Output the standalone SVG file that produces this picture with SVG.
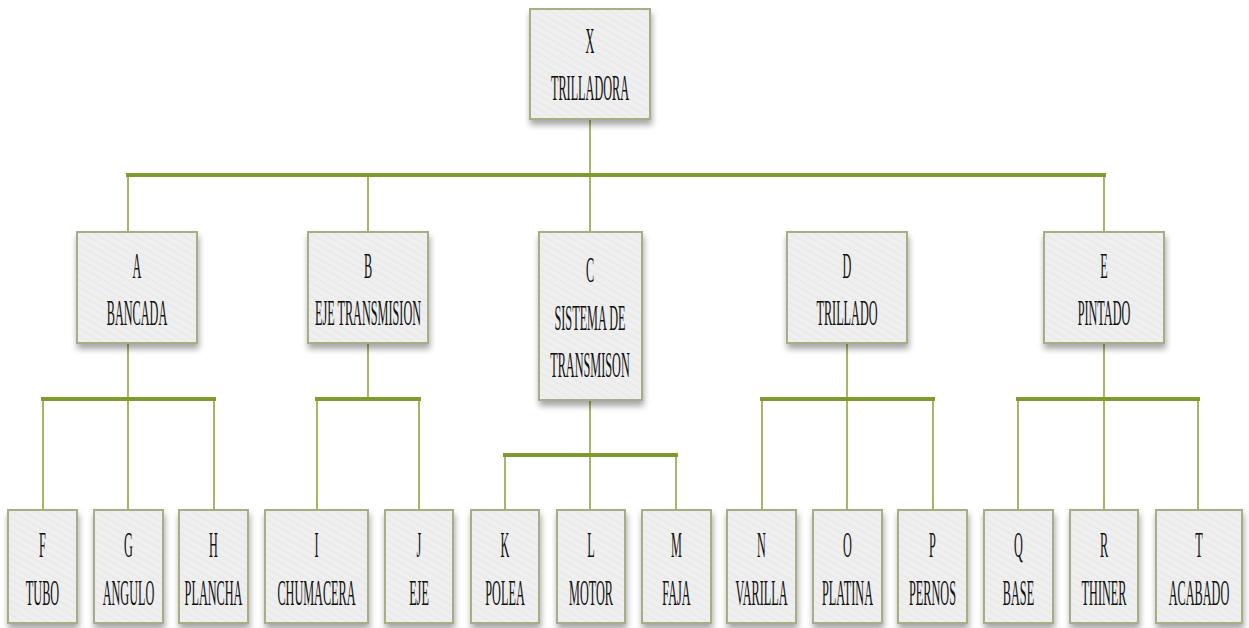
<svg xmlns="http://www.w3.org/2000/svg" width="1249" height="628" viewBox="0 0 1249 628">
  <defs>
    <pattern id="stripes" patternUnits="userSpaceOnUse" width="6" height="6" patternTransform="rotate(-60)">
      <rect width="6" height="6" fill="#efefef"/>
      <rect width="2" height="6" fill="#eaeaea"/>
    </pattern>
    <filter id="shadow" x="-20%" y="-20%" width="140%" height="150%">
      <feDropShadow dx="1" dy="5" stdDeviation="3" flood-color="#000" flood-opacity="0.35"/>
    </filter>
  </defs>
  <style>
    .box { fill: url(#stripes); stroke: #a8ad85; stroke-width: 2; filter: url(#shadow); }
    .t { font-family: "Liberation Serif", "Times New Roman", serif; font-size: 36px; text-anchor: middle; fill: #111; }
    .bus { stroke: #7f9b2c; stroke-width: 4; fill: none; }
    .drop { stroke: #8ea63c; stroke-width: 1.6; fill: none; }
  </style>
  <rect width="1249" height="628" fill="#ffffff"/>

  <!-- connectors -->
  <g id="connectors">
    <!-- root to level 1 -->
    <line class="drop" x1="590" y1="119" x2="590" y2="175"/>
    <line class="drop" x1="128" y1="175" x2="128" y2="232"/>
    <line class="drop" x1="368" y1="175" x2="368" y2="232"/>
    <line class="drop" x1="590" y1="175" x2="590" y2="232"/>
    <line class="drop" x1="1104" y1="175" x2="1104" y2="232"/>
    <line class="bus" x1="126" y1="175" x2="1106" y2="175"/>

    <!-- A branch -->
    <line class="drop" x1="128" y1="343" x2="128" y2="510"/>
    <line class="drop" x1="43" y1="399" x2="43" y2="510"/>
    <line class="drop" x1="214" y1="399" x2="214" y2="510"/>
    <line class="bus" x1="41" y1="399" x2="216" y2="399"/>

    <!-- B branch -->
    <line class="drop" x1="368" y1="343" x2="368" y2="399"/>
    <line class="drop" x1="317" y1="399" x2="317" y2="510"/>
    <line class="drop" x1="419" y1="399" x2="419" y2="510"/>
    <line class="bus" x1="315" y1="399" x2="421" y2="399"/>

    <!-- C branch -->
    <line class="drop" x1="590" y1="400" x2="590" y2="510"/>
    <line class="drop" x1="505" y1="455" x2="505" y2="510"/>
    <line class="drop" x1="676" y1="455" x2="676" y2="510"/>
    <line class="bus" x1="503" y1="455" x2="678" y2="455"/>

    <!-- D branch -->
    <line class="drop" x1="847" y1="343" x2="847" y2="510"/>
    <line class="drop" x1="762" y1="399" x2="762" y2="510"/>
    <line class="drop" x1="933" y1="399" x2="933" y2="510"/>
    <line class="bus" x1="760" y1="399" x2="935" y2="399"/>

    <!-- E branch -->
    <line class="drop" x1="1104" y1="343" x2="1104" y2="510"/>
    <line class="drop" x1="1018" y1="399" x2="1018" y2="510"/>
    <line class="drop" x1="1198" y1="399" x2="1198" y2="510"/>
    <line class="bus" x1="1016" y1="399" x2="1200" y2="399"/>
  </g>

  <!-- root -->
  <g id="node-X">
    <rect class="box" x="530" y="9" width="120" height="110"/>
    <text class="t" transform="translate(590 53) scale(0.34 1)">X</text>
    <text class="t" transform="translate(590 100) scale(0.34 1)">TRILLADORA</text>
  </g>

  <!-- level 1 -->
  <g id="node-A">
    <rect class="box" x="77" y="232" width="120" height="111"/>
    <text class="t" transform="translate(137 278) scale(0.34 1)">A</text>
    <text class="t" transform="translate(137 325) scale(0.34 1)">BANCADA</text>
  </g>
  <g id="node-B">
    <rect class="box" x="308" y="232" width="120" height="111"/>
    <text class="t" transform="translate(368 278) scale(0.34 1)">B</text>
    <text class="t" transform="translate(368 325) scale(0.34 1)">EJE TRANSMISION</text>
  </g>
  <g id="node-C">
    <rect class="box" x="539" y="232" width="103" height="168"/>
    <text class="t" transform="translate(590 282) scale(0.34 1)">C</text>
    <text class="t" transform="translate(590 330) scale(0.34 1)">SISTEMA DE</text>
    <text class="t" transform="translate(590 377) scale(0.34 1)">TRANSMISON</text>
  </g>
  <g id="node-D">
    <rect class="box" x="787" y="232" width="120" height="111"/>
    <text class="t" transform="translate(847 278) scale(0.34 1)">D</text>
    <text class="t" transform="translate(847 325) scale(0.34 1)">TRILLADO</text>
  </g>
  <g id="node-E">
    <rect class="box" x="1044" y="232" width="120" height="111"/>
    <text class="t" transform="translate(1104 278) scale(0.34 1)">E</text>
    <text class="t" transform="translate(1104 325) scale(0.34 1)">PINTADO</text>
  </g>

  <!-- level 2 -->
  <g id="node-F">
    <rect class="box" x="8" y="510" width="69" height="113"/>
    <text class="t" transform="translate(42.5 557) scale(0.34 1)">F</text>
    <text class="t" transform="translate(42.5 605) scale(0.34 1)">TUBO</text>
  </g>
  <g id="node-G">
    <rect class="box" x="94" y="510" width="69" height="113"/>
    <text class="t" transform="translate(128.5 557) scale(0.34 1)">G</text>
    <text class="t" transform="translate(128.5 605) scale(0.34 1)">ANGULO</text>
  </g>
  <g id="node-H">
    <rect class="box" x="179" y="510" width="69" height="113"/>
    <text class="t" transform="translate(213.5 557) scale(0.34 1)">H</text>
    <text class="t" transform="translate(213.5 605) scale(0.34 1)">PLANCHA</text>
  </g>
  <g id="node-I">
    <rect class="box" x="265" y="510" width="103" height="113"/>
    <text class="t" transform="translate(316.5 557) scale(0.34 1)">I</text>
    <text class="t" transform="translate(316.5 605) scale(0.34 1)">CHUMACERA</text>
  </g>
  <g id="node-J">
    <rect class="box" x="385" y="510" width="68" height="113"/>
    <text class="t" transform="translate(419 557) scale(0.34 1)">J</text>
    <text class="t" transform="translate(419 605) scale(0.34 1)">EJE</text>
  </g>
  <g id="node-K">
    <rect class="box" x="471" y="510" width="68" height="113"/>
    <text class="t" transform="translate(505 557) scale(0.34 1)">K</text>
    <text class="t" transform="translate(505 605) scale(0.34 1)">POLEA</text>
  </g>
  <g id="node-L">
    <rect class="box" x="557" y="510" width="68" height="113"/>
    <text class="t" transform="translate(591 557) scale(0.34 1)">L</text>
    <text class="t" transform="translate(591 605) scale(0.34 1)">MOTOR</text>
  </g>
  <g id="node-M">
    <rect class="box" x="642" y="510" width="69" height="113"/>
    <text class="t" transform="translate(676.5 557) scale(0.34 1)">M</text>
    <text class="t" transform="translate(676.5 605) scale(0.34 1)">FAJA</text>
  </g>
  <g id="node-N">
    <rect class="box" x="727" y="510" width="69" height="113"/>
    <text class="t" transform="translate(761.5 557) scale(0.34 1)">N</text>
    <text class="t" transform="translate(761.5 605) scale(0.34 1)">VARILLA</text>
  </g>
  <g id="node-O">
    <rect class="box" x="813" y="510" width="69" height="113"/>
    <text class="t" transform="translate(847.5 557) scale(0.34 1)">O</text>
    <text class="t" transform="translate(847.5 605) scale(0.34 1)">PLATINA</text>
  </g>
  <g id="node-P">
    <rect class="box" x="898" y="510" width="69" height="113"/>
    <text class="t" transform="translate(932.5 557) scale(0.34 1)">P</text>
    <text class="t" transform="translate(932.5 605) scale(0.34 1)">PERNOS</text>
  </g>
  <g id="node-Q">
    <rect class="box" x="984" y="510" width="69" height="113"/>
    <text class="t" transform="translate(1018.5 557) scale(0.34 1)">Q</text>
    <text class="t" transform="translate(1018.5 605) scale(0.34 1)">BASE</text>
  </g>
  <g id="node-R">
    <rect class="box" x="1070" y="510" width="68" height="113"/>
    <text class="t" transform="translate(1104 557) scale(0.34 1)">R</text>
    <text class="t" transform="translate(1104 605) scale(0.34 1)">THINER</text>
  </g>
  <g id="node-T">
    <rect class="box" x="1156" y="510" width="86" height="113"/>
    <text class="t" transform="translate(1199 557) scale(0.34 1)">T</text>
    <text class="t" transform="translate(1199 605) scale(0.34 1)">ACABADO</text>
  </g>
</svg>
